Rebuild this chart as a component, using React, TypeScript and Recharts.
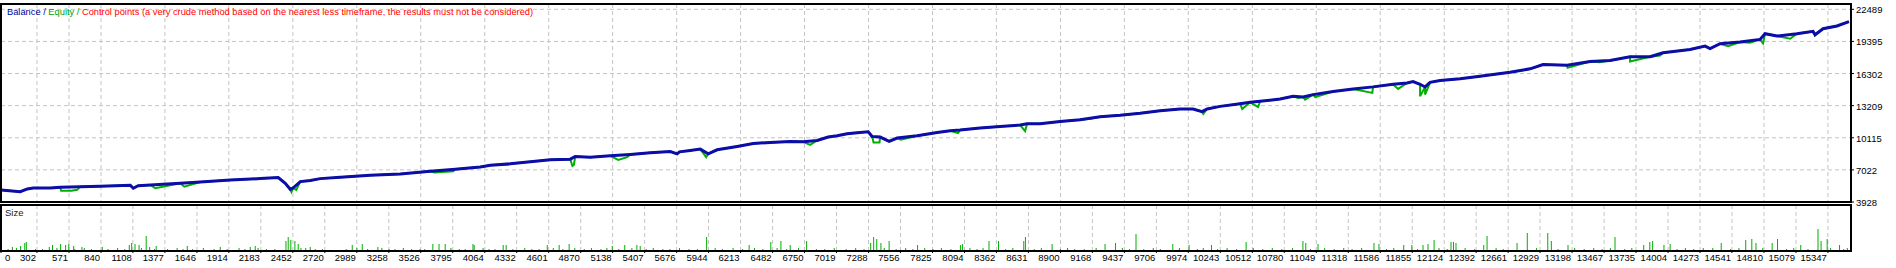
import { LineChart, Line, XAxis, YAxis, CartesianGrid, BarChart, Bar } from 'recharts';

// trade number ticks along the bottom
const tradeTicks = [
  0, 302, 571, 840, 1108, 1377, 1646, 1914, 2183, 2452, 2720, 2989, 3258, 3526, 3795, 4064, 4332, 4601,
  4870, 5138, 5407, 5676, 5944, 6213, 6482, 6750, 7019, 7288, 7556, 7825, 8094, 8362, 8631, 8900, 9168,
  9437, 9706, 9974, 10243, 10512, 10780, 11049, 11318, 11586, 11855, 12124, 12392, 12661, 12929, 13198,
  13467, 13735, 14004, 14273, 14541, 14810, 15079, 15347,
];

const moneyTicks = [3928, 7022, 10115, 13209, 16302, 19395, 22489];

// [trade, balance]
const balance: [number, number][] = [
  [0, 5088], [162, 4924], [221, 5185], [271, 5281], [414, 5281], [498, 5349], [666, 5407], [834, 5446],
  [1086, 5542], [1111, 5253], [1153, 5500], [1254, 5571], [1506, 5736], [1674, 5861], [1926, 6055],
  [2178, 6180], [2329, 6277], [2388, 5736], [2430, 5156], [2455, 5300], [2514, 5890], [2598, 6000],
  [2682, 6180], [2850, 6315], [3102, 6509], [3354, 6635], [3606, 6895], [3816, 7089], [4026, 7300],
  [4110, 7469], [4278, 7602], [4446, 7795], [4614, 7988], [4782, 8053], [4824, 8307], [4950, 8243],
  [5118, 8375], [5286, 8500], [5454, 8665], [5622, 8790], [5680, 8568], [5700, 8760], [5790, 8887],
  [5874, 9022], [5941, 8568], [6016, 8955], [6184, 9276], [6319, 9566], [6462, 9662], [6630, 9759],
  [6739, 9730], [6856, 9855], [6949, 10183], [7024, 10308], [7108, 10502], [7192, 10598], [7285, 10695],
  [7318, 10241], [7385, 10183], [7461, 9759], [7528, 10086], [7696, 10308], [7864, 10630], [7974, 10792],
  [8057, 10860], [8225, 11053], [8393, 11208], [8561, 11343], [8620, 11468], [8729, 11468], [8897, 11691],
  [9065, 11855], [9233, 12145], [9401, 12274], [9569, 12467], [9737, 12725], [9905, 12886], [10014, 12886],
  [10090, 12628], [10132, 12886], [10241, 13140], [10409, 13402], [10493, 13527], [10577, 13624],
  [10745, 13856], [10854, 14108], [10938, 14043], [11022, 14272], [11190, 14562], [11358, 14823],
  [11526, 15017], [11694, 15268], [11812, 15401], [11862, 15527], [11921, 15268], [11963, 15010],
  [12005, 15460], [12089, 15625], [12257, 15790], [12425, 16040], [12677, 16430], [12845, 16755],
  [12954, 17172], [13156, 17100], [13349, 17462], [13517, 17558], [13685, 17920], [13853, 17920],
  [13962, 18307], [14189, 18622], [14315, 18944], [14357, 18700], [14441, 19170], [14609, 19347],
  [14777, 19589], [14819, 20140], [14919, 19911], [15087, 20140], [15222, 20363], [15239, 20041],
  [15306, 20621], [15423, 20879], [15524, 21300],
];

// [trade, equity] where equity drops below balance
const equityDips: [number, number][] = [
  [505, 5020], [590, 5020], [640, 5100], [1296, 5253], [1540, 5407], [2440, 4892], [2480, 5088],
  [3640, 6760], [3800, 6895], [4800, 7408], [4812, 7505], [5185, 7988], [5260, 8243], [5924, 8243],
  [6797, 9438], [7330, 9662], [7380, 9662], [7560, 9921], [8040, 10566], [8603, 10760], [9150, 11952],
  [10100, 12405], [10427, 12886], [10560, 13082], [10896, 13952], [10955, 13789], [11040, 14043],
  [11520, 14436], [11736, 14823], [11921, 14108], [11963, 14272], [12780, 16592], [13160, 16850],
  [13430, 17395], [13685, 17462], [13937, 18042], [14357, 18690], [14508, 18944], [14693, 19270],
  [14802, 19202], [15029, 19653], [15239, 19975],
];

// [trade, lots] - the visible spikes of the Size pane
const sizeSpikes: [number, number][] = [
  [96, 0.03], [165, 0.04], [200, 0.07], [213, 0.08], [406, 0.03], [433, 0.05], [501, 0.06], [543, 0.05],
  [570, 0.06], [611, 0.04], [680, 0.03], [851, 0.03], [1078, 0.05], [1098, 0.07], [1126, 0.06],
  [1160, 0.05], [1220, 0.14], [1249, 0.03], [1304, 0.04], [1565, 0.04], [1842, 0.03], [2094, 0.03],
  [2136, 0.04], [2394, 0.09], [2413, 0.13], [2435, 0.1], [2469, 0.09], [2497, 0.06], [2598, 0.03],
  [2951, 0.05], [3035, 0.06], [3166, 0.03], [3628, 0.06], [3680, 0.06], [3732, 0.06], [3965, 0.06],
  [3975, 0.05], [4219, 0.05], [4244, 0.05], [4589, 0.05], [4689, 0.05], [4773, 0.06], [5135, 0.04],
  [5240, 0.05], [5342, 0.05], [5370, 0.04], [5928, 0.13], [6285, 0.05], [6467, 0.08], [6552, 0.09],
  [6630, 0.05], [6768, 0.09], [7306, 0.07], [7331, 0.13], [7357, 0.11], [7392, 0.07], [7461, 0.09],
  [7700, 0.05], [8060, 0.05], [8077, 0.06], [8300, 0.09], [8380, 0.09], [8592, 0.09], [8606, 0.13],
  [8830, 0.06], [9275, 0.06], [9363, 0.07], [9535, 0.16], [9844, 0.06], [9981, 0.05], [10169, 0.05],
  [10460, 0.08], [10937, 0.09], [10961, 0.07], [11064, 0.06], [11534, 0.07], [11576, 0.06], [11784, 0.05],
  [11852, 0.05], [11946, 0.05], [11988, 0.06], [12039, 0.1], [12181, 0.08], [12202, 0.08], [12223, 0.07],
  [12456, 0.05], [12484, 0.14], [12736, 0.07], [12822, 0.17], [12994, 0.17], [13024, 0.09], [13164, 0.05],
  [13559, 0.13], [13800, 0.05], [13851, 0.08], [13875, 0.09], [13970, 0.05], [14022, 0.06], [14451, 0.07],
  [14657, 0.1], [14708, 0.11], [14743, 0.07], [14879, 0.07], [14924, 0.11], [15119, 0.05], [15264, 0.21],
  [15290, 0.09], [15341, 0.11], [15445, 0.05],
];

// [trade, lots] - the small ones along the bottom of the Size pane
const sizeSmall: [number, number][] = [
  [60, 0.01], [130, 0.02], [290, 0.01], [350, 0.01], [470, 0.02], [620, 0.01], [700, 0.02], [760, 0.01],
  [900, 0.01], [980, 0.02], [1040, 0.01], [1180, 0.02], [1290, 0.01], [1400, 0.01], [1480, 0.02],
  [1530, 0.01], [1610, 0.01], [1700, 0.02], [1790, 0.01], [1900, 0.01], [2000, 0.02], [2050, 0.01],
  [2160, 0.02], [2230, 0.01], [2300, 0.01], [2520, 0.02], [2560, 0.02], [2640, 0.01], [2700, 0.01],
  [2900, 0.01], [2990, 0.02], [3080, 0.01], [3200, 0.02], [3260, 0.01], [3310, 0.01], [3380, 0.02],
  [3450, 0.01], [3520, 0.01], [3560, 0.01], [3780, 0.02], [3850, 0.01], [3900, 0.01], [4050, 0.02],
  [4100, 0.01], [4150, 0.01], [4300, 0.01], [4400, 0.02], [4460, 0.01], [4520, 0.01], [4640, 0.02],
  [4720, 0.01], [4820, 0.02], [4900, 0.01], [4960, 0.02], [5040, 0.01], [5090, 0.02], [5190, 0.01],
  [5300, 0.02], [5420, 0.01], [5480, 0.02], [5560, 0.01], [5620, 0.01], [5700, 0.02], [5780, 0.01],
  [5850, 0.01], [6000, 0.02], [6060, 0.01], [6150, 0.02], [6230, 0.01], [6330, 0.02], [6400, 0.01],
  [6520, 0.02], [6600, 0.01], [6700, 0.02], [6850, 0.01], [6920, 0.01], [7000, 0.02], [7100, 0.01],
  [7180, 0.02], [7250, 0.01], [7420, 0.02], [7520, 0.01], [7600, 0.02], [7660, 0.01], [7760, 0.02],
  [7830, 0.01], [7900, 0.02], [7980, 0.01], [8140, 0.02], [8200, 0.01], [8250, 0.02], [8440, 0.01],
  [8500, 0.02], [8680, 0.01], [8740, 0.02], [8900, 0.01], [8960, 0.02], [9020, 0.01], [9100, 0.01],
  [9200, 0.02], [9420, 0.02], [9480, 0.01], [9600, 0.01], [9680, 0.02], [9740, 0.01], [9900, 0.02],
  [10050, 0.01], [10100, 0.02], [10220, 0.01], [10300, 0.02], [10380, 0.01], [10520, 0.02], [10600, 0.01],
  [10680, 0.02], [10760, 0.01], [10850, 0.02], [11000, 0.01], [11120, 0.02], [11200, 0.01], [11280, 0.02],
  [11350, 0.01], [11430, 0.02], [11640, 0.01], [11700, 0.02], [11900, 0.01], [12080, 0.02], [12150, 0.01],
  [12300, 0.02], [12380, 0.01], [12560, 0.02], [12620, 0.01], [12900, 0.02], [13080, 0.01], [13220, 0.02],
  [13300, 0.01], [13380, 0.02], [13450, 0.01], [13520, 0.02], [13640, 0.01], [13700, 0.02], [14080, 0.01],
  [14150, 0.02], [14220, 0.01], [14300, 0.02], [14380, 0.02], [14530, 0.01], [14600, 0.02], [14800, 0.02],
  [15000, 0.01], [15060, 0.02], [15180, 0.01], [15370, 0.02], [15480, 0.01], [15510, 0.02],
];

const W = 1896;
const PLOT_RIGHT = 45;
const X_DOMAIN = [0, 15541];
const FONT = '"Liberation Sans", Arial, sans-serif';
const BLUE = '#0c0ca8';
const GREEN = '#00b000';
const GRID = '#c4c4c4';

const balanceData = balance.map(([trade, value]) => ({ trade, value }));
// equity follows balance except where it dips
const equityData = [...balance, ...equityDips]
  .sort((a, b) => a[0] - b[0])
  .map(([trade, value]) => ({ trade, value }));
const sizeData = [...sizeSpikes, ...sizeSmall]
  .sort((a, b) => a[0] - b[0])
  .map(([trade, lots]) => ({ trade, lots }));

const MoneyTick = ({ x, y, payload }: any) => (
  <text x={x} y={y + 4} fontSize={9.5} fontFamily={FONT} fill="#000" textAnchor="start">
    {payload.value}
  </text>
);

const TradeTick = ({ x, y, payload }: any) => {
  const first = payload.value === 0;
  return (
    <text
      x={first ? x + 4 : x - 1}
      y={y + 6}
      fontSize={9.5}
      fontFamily={FONT}
      fill="#000"
      textAnchor={first ? 'start' : 'end'}
    >
      {payload.value}
    </text>
  );
};

const frame = (top: number, height: number): React.CSSProperties => ({
  position: 'absolute',
  left: 0,
  top,
  width: 1852,
  height,
  border: '2px solid #000',
  boxSizing: 'border-box',
  pointerEvents: 'none',
});

export default function App() {
  return (
    <div style={{ position: 'absolute', left: 0, top: 0, width: W, height: 268, background: '#fff', overflow: 'hidden' }}>
      <style>{'body{margin:0}'}</style>
      <div style={{ position: 'absolute', left: 0, top: 204 }}>
        <BarChart width={W} height={64} data={sizeData} margin={{ top: 1, right: PLOT_RIGHT, bottom: 0, left: 1 }}>
          <CartesianGrid stroke={GRID} strokeDasharray="4 3" horizontal={false} />
          <XAxis
            dataKey="trade"
            type="number"
            domain={X_DOMAIN}
            ticks={tradeTicks}
            interval={0}
            height={18}
            axisLine={false}
            tickSize={3}
            tickMargin={2}
            tickLine={{ stroke: '#000' }}
            tick={<TradeTick />}
            allowDataOverflow
          />
          <YAxis hide domain={[0, 0.45]} allowDataOverflow />
          <Bar dataKey="lots" fill={GREEN} barSize={1} isAnimationActive={false} />
        </BarChart>
      </div>
      <div style={{ position: 'absolute', left: 0, top: 0 }}>
        <LineChart width={W} height={216} margin={{ top: 4, right: 0, bottom: 14, left: 1 }}>
          <CartesianGrid stroke={GRID} strokeDasharray="4 3" />
          <XAxis dataKey="trade" type="number" domain={X_DOMAIN} ticks={tradeTicks} hide allowDataOverflow />
          <YAxis
            orientation="right"
            type="number"
            domain={[3928, 23001]}
            ticks={moneyTicks}
            width={PLOT_RIGHT}
            axisLine={false}
            tickSize={3}
            tickMargin={2}
            tickLine={{ stroke: '#000' }}
            tick={<MoneyTick />}
            interval={0}
            allowDataOverflow
          />
          <Line data={equityData} dataKey="value" stroke={GREEN} strokeWidth={2} dot={false} isAnimationActive={false} />
          <Line data={balanceData} dataKey="value" stroke={BLUE} strokeWidth={3} dot={false} isAnimationActive={false} />
        </LineChart>
      </div>
      <div style={frame(3, 200)} />
      <div style={frame(204, 48)} />
      <div style={{ position: 'absolute', left: 7, top: 6, fontFamily: FONT, fontSize: 9.3, lineHeight: '12px', whiteSpace: 'nowrap' }}>
        <span style={{ color: '#0000a0' }}>Balance</span>
        <span style={{ color: '#0000a0' }}> / </span>
        <span style={{ color: '#00a000' }}>Equity</span>
        <span style={{ color: '#00a000' }}> / </span>
        <span style={{ color: '#ff0000' }}>Control points (a very crude method based on the nearest less timeframe, the results must not be considered)</span>
      </div>
      <div style={{ position: 'absolute', left: 5, top: 207, fontFamily: FONT, fontSize: 9.5, lineHeight: '12px', color: '#202020' }}>
        Size
      </div>
    </div>
  );
}
